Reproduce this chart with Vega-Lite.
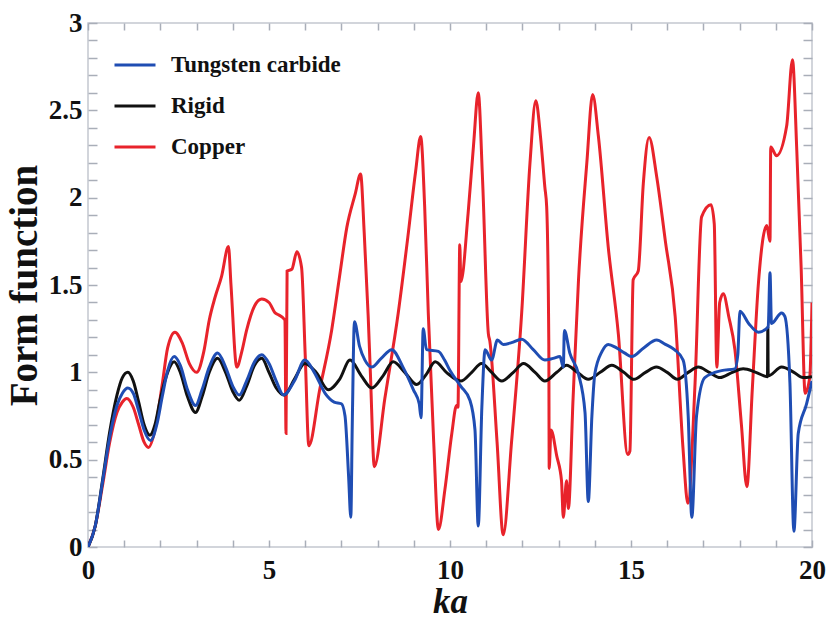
{
"$schema": "https://vega.github.io/schema/vega-lite/v6.json",
"width": 724, "height": 524,
"autosize": {"type": "none"},
"padding": {"left": 88, "top": 23, "right": 17, "bottom": 71},
"background": "white",
"config": {"view": {"stroke": "#c3c7cf", "strokeWidth": 1.5}, "font": "Liberation Serif"},
"datasets": {
"rigid": [
{"m":"Rigid","ka":0,"F":0},{"m":"Rigid","ka":0.2,"F":0.12},{"m":"Rigid","ka":0.4,"F":0.38},{"m":"Rigid","ka":0.6,"F":0.66},{"m":"Rigid","ka":0.8,"F":0.87},{"m":"Rigid","ka":0.95,"F":0.97},{"m":"Rigid","ka":1.1,"F":1.0},{"m":"Rigid","ka":1.25,"F":0.95},{"m":"Rigid","ka":1.4,"F":0.83},{"m":"Rigid","ka":1.55,"F":0.7},{"m":"Rigid","ka":1.71,"F":0.64},{"m":"Rigid","ka":1.85,"F":0.7},{"m":"Rigid","ka":2.0,"F":0.85},{"m":"Rigid","ka":2.2,"F":1.0},{"m":"Rigid","ka":2.38,"F":1.06},{"m":"Rigid","ka":2.55,"F":1.0},{"m":"Rigid","ka":2.75,"F":0.86},{"m":"Rigid","ka":2.97,"F":0.77},{"m":"Rigid","ka":3.15,"F":0.86},{"m":"Rigid","ka":3.35,"F":1.0},{"m":"Rigid","ka":3.58,"F":1.08},{"m":"Rigid","ka":3.8,"F":1.0},{"m":"Rigid","ka":4.0,"F":0.89},{"m":"Rigid","ka":4.18,"F":0.84},{"m":"Rigid","ka":4.38,"F":0.92},{"m":"Rigid","ka":4.6,"F":1.04},{"m":"Rigid","ka":4.8,"F":1.08},{"m":"Rigid","ka":5.0,"F":1.0},{"m":"Rigid","ka":5.2,"F":0.91},{"m":"Rigid","ka":5.42,"F":0.87},{"m":"Rigid","ka":5.7,"F":0.96},{"m":"Rigid","ka":5.99,"F":1.05},{"m":"Rigid","ka":6.3,"F":1.0},{"m":"Rigid","ka":6.64,"F":0.9},{"m":"Rigid","ka":6.95,"F":0.96},{"m":"Rigid","ka":7.24,"F":1.07},{"m":"Rigid","ka":7.55,"F":0.98},{"m":"Rigid","ka":7.84,"F":0.91},{"m":"Rigid","ka":8.15,"F":0.98},{"m":"Rigid","ka":8.43,"F":1.06},{"m":"Rigid","ka":8.75,"F":1.0},{"m":"Rigid","ka":9.08,"F":0.93},{"m":"Rigid","ka":9.35,"F":0.99},{"m":"Rigid","ka":9.59,"F":1.06},{"m":"Rigid","ka":9.9,"F":1.0},{"m":"Rigid","ka":10.3,"F":0.95},{"m":"Rigid","ka":10.6,"F":1.0},{"m":"Rigid","ka":10.87,"F":1.05},{"m":"Rigid","ka":11.15,"F":1.0},{"m":"Rigid","ka":11.43,"F":0.95},{"m":"Rigid","ka":11.75,"F":1.0},{"m":"Rigid","ka":12.03,"F":1.05},{"m":"Rigid","ka":12.35,"F":1.0},{"m":"Rigid","ka":12.62,"F":0.95},{"m":"Rigid","ka":12.95,"F":1.0},{"m":"Rigid","ka":13.22,"F":1.04},{"m":"Rigid","ka":13.52,"F":1.0},{"m":"Rigid","ka":13.82,"F":0.96},{"m":"Rigid","ka":14.15,"F":1.0},{"m":"Rigid","ka":14.47,"F":1.04},{"m":"Rigid","ka":14.8,"F":1.0},{"m":"Rigid","ka":15.08,"F":0.96},{"m":"Rigid","ka":15.4,"F":1.0},{"m":"Rigid","ka":15.7,"F":1.03},{"m":"Rigid","ka":16.0,"F":1.0},{"m":"Rigid","ka":16.28,"F":0.96},{"m":"Rigid","ka":16.58,"F":1.0},{"m":"Rigid","ka":16.86,"F":1.03},{"m":"Rigid","ka":17.16,"F":1.0},{"m":"Rigid","ka":17.46,"F":0.97},{"m":"Rigid","ka":17.8,"F":1.0},{"m":"Rigid","ka":18.1,"F":1.02},{"m":"Rigid","ka":18.45,"F":1.0},{"m":"Rigid","ka":18.77,"F":0.975},{"m":"Rigid","ka":18.78,"F":1.26},{"m":"Rigid","ka":18.79,"F":0.98},{"m":"Rigid","ka":19.16,"F":1.03},{"m":"Rigid","ka":19.5,"F":1.0},{"m":"Rigid","ka":19.75,"F":0.97},{"m":"Rigid","ka":20.0,"F":0.975}
],
"tungsten": [
{"m":"Tungsten carbide","ka":0,"F":0},{"m":"Tungsten carbide","ka":0.2,"F":0.12},{"m":"Tungsten carbide","ka":0.4,"F":0.37},{"m":"Tungsten carbide","ka":0.6,"F":0.63},{"m":"Tungsten carbide","ka":0.8,"F":0.81},{"m":"Tungsten carbide","ka":0.95,"F":0.88},{"m":"Tungsten carbide","ka":1.1,"F":0.91},{"m":"Tungsten carbide","ka":1.25,"F":0.88},{"m":"Tungsten carbide","ka":1.4,"F":0.78},{"m":"Tungsten carbide","ka":1.55,"F":0.67},{"m":"Tungsten carbide","ka":1.73,"F":0.61},{"m":"Tungsten carbide","ka":1.9,"F":0.7},{"m":"Tungsten carbide","ka":2.05,"F":0.86},{"m":"Tungsten carbide","ka":2.2,"F":1.01},{"m":"Tungsten carbide","ka":2.38,"F":1.09},{"m":"Tungsten carbide","ka":2.55,"F":1.04},{"m":"Tungsten carbide","ka":2.75,"F":0.9},{"m":"Tungsten carbide","ka":2.97,"F":0.81},{"m":"Tungsten carbide","ka":3.15,"F":0.9},{"m":"Tungsten carbide","ka":3.35,"F":1.03},{"m":"Tungsten carbide","ka":3.58,"F":1.11},{"m":"Tungsten carbide","ka":3.8,"F":1.03},{"m":"Tungsten carbide","ka":4.0,"F":0.92},{"m":"Tungsten carbide","ka":4.18,"F":0.87},{"m":"Tungsten carbide","ka":4.38,"F":0.95},{"m":"Tungsten carbide","ka":4.6,"F":1.06},{"m":"Tungsten carbide","ka":4.8,"F":1.1},{"m":"Tungsten carbide","ka":5.0,"F":1.05},{"m":"Tungsten carbide","ka":5.2,"F":0.95},{"m":"Tungsten carbide","ka":5.4,"F":0.87},{"m":"Tungsten carbide","ka":5.7,"F":0.95},{"m":"Tungsten carbide","ka":5.99,"F":1.07},{"m":"Tungsten carbide","ka":6.25,"F":1.0},{"m":"Tungsten carbide","ka":6.55,"F":0.88},{"m":"Tungsten carbide","ka":6.8,"F":0.83},{"m":"Tungsten carbide","ka":7.0,"F":0.82},{"m":"Tungsten carbide","ka":7.1,"F":0.75},{"m":"Tungsten carbide","ka":7.2,"F":0.4},{"m":"Tungsten carbide","ka":7.26,"F":0.17},{"m":"Tungsten carbide","ka":7.3,"F":0.7},{"m":"Tungsten carbide","ka":7.36,"F":1.29},{"m":"Tungsten carbide","ka":7.5,"F":1.15},{"m":"Tungsten carbide","ka":7.65,"F":1.07},{"m":"Tungsten carbide","ka":7.84,"F":1.03},{"m":"Tungsten carbide","ka":8.1,"F":1.08},{"m":"Tungsten carbide","ka":8.39,"F":1.13},{"m":"Tungsten carbide","ka":8.7,"F":1.03},{"m":"Tungsten carbide","ka":8.99,"F":0.9},{"m":"Tungsten carbide","ka":9.15,"F":0.82},{"m":"Tungsten carbide","ka":9.2,"F":0.74},{"m":"Tungsten carbide","ka":9.26,"F":1.25},{"m":"Tungsten carbide","ka":9.35,"F":1.13},{"m":"Tungsten carbide","ka":9.68,"F":1.12},{"m":"Tungsten carbide","ka":9.85,"F":1.07},{"m":"Tungsten carbide","ka":10.0,"F":1.01},{"m":"Tungsten carbide","ka":10.3,"F":0.92},{"m":"Tungsten carbide","ka":10.55,"F":0.84},{"m":"Tungsten carbide","ka":10.69,"F":0.67},{"m":"Tungsten carbide","ka":10.78,"F":0.12},{"m":"Tungsten carbide","ka":10.88,"F":0.8},{"m":"Tungsten carbide","ka":10.97,"F":1.13},{"m":"Tungsten carbide","ka":11.15,"F":1.07},{"m":"Tungsten carbide","ka":11.31,"F":1.185},{"m":"Tungsten carbide","ka":11.47,"F":1.16},{"m":"Tungsten carbide","ka":11.7,"F":1.17},{"m":"Tungsten carbide","ka":11.98,"F":1.19},{"m":"Tungsten carbide","ka":12.3,"F":1.13},{"m":"Tungsten carbide","ka":12.62,"F":1.07},{"m":"Tungsten carbide","ka":12.85,"F":1.08},{"m":"Tungsten carbide","ka":13.04,"F":1.09},{"m":"Tungsten carbide","ka":13.13,"F":1.03},{"m":"Tungsten carbide","ka":13.16,"F":1.24},{"m":"Tungsten carbide","ka":13.31,"F":1.11},{"m":"Tungsten carbide","ka":13.55,"F":0.99},{"m":"Tungsten carbide","ka":13.73,"F":0.77},{"m":"Tungsten carbide","ka":13.82,"F":0.26},{"m":"Tungsten carbide","ka":13.92,"F":0.75},{"m":"Tungsten carbide","ka":14.0,"F":0.99},{"m":"Tungsten carbide","ka":14.2,"F":1.12},{"m":"Tungsten carbide","ka":14.37,"F":1.16},{"m":"Tungsten carbide","ka":14.6,"F":1.14},{"m":"Tungsten carbide","ka":14.83,"F":1.11},{"m":"Tungsten carbide","ka":15.02,"F":1.09},{"m":"Tungsten carbide","ka":15.35,"F":1.14},{"m":"Tungsten carbide","ka":15.71,"F":1.185},{"m":"Tungsten carbide","ka":15.95,"F":1.16},{"m":"Tungsten carbide","ka":16.2,"F":1.13},{"m":"Tungsten carbide","ka":16.44,"F":1.07},{"m":"Tungsten carbide","ka":16.58,"F":0.75},{"m":"Tungsten carbide","ka":16.68,"F":0.17},{"m":"Tungsten carbide","ka":16.81,"F":0.75},{"m":"Tungsten carbide","ka":17.04,"F":0.97},{"m":"Tungsten carbide","ka":17.5,"F":1.01},{"m":"Tungsten carbide","ka":17.87,"F":1.02},{"m":"Tungsten carbide","ka":17.95,"F":1.1},{"m":"Tungsten carbide","ka":18.01,"F":1.35},{"m":"Tungsten carbide","ka":18.25,"F":1.28},{"m":"Tungsten carbide","ka":18.52,"F":1.23},{"m":"Tungsten carbide","ka":18.79,"F":1.26},{"m":"Tungsten carbide","ka":18.84,"F":1.57},{"m":"Tungsten carbide","ka":18.88,"F":1.28},{"m":"Tungsten carbide","ka":19.16,"F":1.34},{"m":"Tungsten carbide","ka":19.25,"F":1.32},{"m":"Tungsten carbide","ka":19.39,"F":0.94},{"m":"Tungsten carbide","ka":19.5,"F":0.09},{"m":"Tungsten carbide","ka":19.62,"F":0.65},{"m":"Tungsten carbide","ka":19.85,"F":0.82},{"m":"Tungsten carbide","ka":20.0,"F":0.95}
],
"copper": [
{"m":"Copper","ka":0,"F":0},{"m":"Copper","ka":0.2,"F":0.12},{"m":"Copper","ka":0.4,"F":0.35},{"m":"Copper","ka":0.6,"F":0.6},{"m":"Copper","ka":0.8,"F":0.77},{"m":"Copper","ka":0.95,"F":0.83},{"m":"Copper","ka":1.07,"F":0.85},{"m":"Copper","ka":1.25,"F":0.8},{"m":"Copper","ka":1.4,"F":0.7},{"m":"Copper","ka":1.55,"F":0.6},{"m":"Copper","ka":1.67,"F":0.57},{"m":"Copper","ka":1.85,"F":0.67},{"m":"Copper","ka":2.05,"F":0.93},{"m":"Copper","ka":2.2,"F":1.14},{"m":"Copper","ka":2.4,"F":1.23},{"m":"Copper","ka":2.6,"F":1.17},{"m":"Copper","ka":2.8,"F":1.05},{"m":"Copper","ka":3.0,"F":1.0},{"m":"Copper","ka":3.2,"F":1.12},{"m":"Copper","ka":3.35,"F":1.3},{"m":"Copper","ka":3.51,"F":1.43},{"m":"Copper","ka":3.69,"F":1.55},{"m":"Copper","ka":3.88,"F":1.72},{"m":"Copper","ka":3.95,"F":1.5},{"m":"Copper","ka":4.11,"F":1.03},{"m":"Copper","ka":4.25,"F":1.12},{"m":"Copper","ka":4.38,"F":1.24},{"m":"Copper","ka":4.6,"F":1.38},{"m":"Copper","ka":4.8,"F":1.42},{"m":"Copper","ka":5.0,"F":1.4},{"m":"Copper","ka":5.17,"F":1.34},{"m":"Copper","ka":5.26,"F":1.33},{"m":"Copper","ka":5.44,"F":1.3},{"m":"Copper","ka":5.47,"F":0.65},{"m":"Copper","ka":5.5,"F":1.58},{"m":"Copper","ka":5.63,"F":1.59},{"m":"Copper","ka":5.77,"F":1.69},{"m":"Copper","ka":5.9,"F":1.6},{"m":"Copper","ka":6.0,"F":1.1},{"m":"Copper","ka":6.1,"F":0.58},{"m":"Copper","ka":6.4,"F":0.9},{"m":"Copper","ka":6.73,"F":1.24},{"m":"Copper","ka":6.95,"F":1.55},{"m":"Copper","ka":7.15,"F":1.83},{"m":"Copper","ka":7.38,"F":2.02},{"m":"Copper","ka":7.53,"F":2.135},{"m":"Copper","ka":7.63,"F":1.8},{"m":"Copper","ka":7.74,"F":1.32},{"m":"Copper","ka":7.8,"F":1.0},{"m":"Copper","ka":7.91,"F":0.46},{"m":"Copper","ka":8.2,"F":0.85},{"m":"Copper","ka":8.57,"F":1.34},{"m":"Copper","ka":8.85,"F":1.8},{"m":"Copper","ka":9.05,"F":2.15},{"m":"Copper","ka":9.19,"F":2.35},{"m":"Copper","ka":9.3,"F":1.95},{"m":"Copper","ka":9.4,"F":1.34},{"m":"Copper","ka":9.55,"F":0.6},{"m":"Copper","ka":9.68,"F":0.1},{"m":"Copper","ka":9.86,"F":0.33},{"m":"Copper","ka":10.05,"F":0.65},{"m":"Copper","ka":10.18,"F":0.81},{"m":"Copper","ka":10.22,"F":0.8},{"m":"Copper","ka":10.27,"F":1.73},{"m":"Copper","ka":10.3,"F":1.52},{"m":"Copper","ka":10.5,"F":1.91},{"m":"Copper","ka":10.65,"F":2.3},{"m":"Copper","ka":10.78,"F":2.6},{"m":"Copper","ka":10.9,"F":2.1},{"m":"Copper","ka":11.06,"F":1.22},{"m":"Copper","ka":11.1,"F":1.18},{"m":"Copper","ka":11.3,"F":0.6},{"m":"Copper","ka":11.47,"F":0.07},{"m":"Copper","ka":11.7,"F":0.6},{"m":"Copper","ka":11.98,"F":1.34},{"m":"Copper","ka":12.21,"F":2.2},{"m":"Copper","ka":12.37,"F":2.555},{"m":"Copper","ka":12.5,"F":2.35},{"m":"Copper","ka":12.62,"F":2.06},{"m":"Copper","ka":12.67,"F":1.95},{"m":"Copper","ka":12.73,"F":1.15},{"m":"Copper","ka":12.74,"F":0.45},{"m":"Copper","ka":12.79,"F":0.67},{"m":"Copper","ka":12.95,"F":0.52},{"m":"Copper","ka":13.08,"F":0.38},{"m":"Copper","ka":13.13,"F":0.17},{"m":"Copper","ka":13.22,"F":0.38},{"m":"Copper","ka":13.27,"F":0.22},{"m":"Copper","ka":13.4,"F":0.85},{"m":"Copper","ka":13.55,"F":1.53},{"m":"Copper","ka":13.78,"F":2.2},{"m":"Copper","ka":13.94,"F":2.59},{"m":"Copper","ka":14.1,"F":2.35},{"m":"Copper","ka":14.37,"F":1.72},{"m":"Copper","ka":14.65,"F":1.22},{"m":"Copper","ka":14.91,"F":0.53},{"m":"Copper","ka":14.97,"F":0.55},{"m":"Copper","ka":15.06,"F":1.53},{"m":"Copper","ka":15.2,"F":1.58},{"m":"Copper","ka":15.34,"F":2.08},{"m":"Copper","ka":15.5,"F":2.345},{"m":"Copper","ka":15.71,"F":2.12},{"m":"Copper","ka":15.95,"F":1.75},{"m":"Copper","ka":16.22,"F":1.32},{"m":"Copper","ka":16.44,"F":0.555},{"m":"Copper","ka":16.57,"F":0.25},{"m":"Copper","ka":16.77,"F":0.94},{"m":"Copper","ka":16.95,"F":1.89},{"m":"Copper","ka":17.21,"F":1.96},{"m":"Copper","ka":17.3,"F":1.85},{"m":"Copper","ka":17.37,"F":1.03},{"m":"Copper","ka":17.45,"F":1.4},{"m":"Copper","ka":17.55,"F":1.45},{"m":"Copper","ka":17.7,"F":1.32},{"m":"Copper","ka":17.87,"F":1.13},{"m":"Copper","ka":18.05,"F":0.7},{"m":"Copper","ka":18.2,"F":0.345},{"m":"Copper","ka":18.35,"F":0.9},{"m":"Copper","ka":18.52,"F":1.51},{"m":"Copper","ka":18.75,"F":1.84},{"m":"Copper","ka":18.84,"F":1.75},{"m":"Copper","ka":18.86,"F":2.29},{"m":"Copper","ka":19.02,"F":2.24},{"m":"Copper","ka":19.3,"F":2.41},{"m":"Copper","ka":19.46,"F":2.79},{"m":"Copper","ka":19.58,"F":2.27},{"m":"Copper","ka":19.7,"F":1.6},{"m":"Copper","ka":19.81,"F":0.88},{"m":"Copper","ka":19.94,"F":0.975},{"m":"Copper","ka":20.0,"F":1.4}
]
},
"layer": [
{
"data": {"name": "copper"},
"mark": {"type": "line", "strokeWidth": 3, "clip": true, "interpolate": "monotone"},
"encoding": {
"x": {"field": "ka", "type": "quantitative", "scale": {"domain": [0, 20], "nice": false, "zero": false},
"axis": {"values": [0,1,2,3,4,5,6,7,8,9,10,11,12,13,14,15,16,17,18,19,20], "format": "d", "labelExpr": "datum.value % 5 == 0 ? datum.label : ''", "tickSize": -7, "tickColor": "#a9aeb8", "tickWidth": 1.5, "domain": false, "grid": false, "labelFont": "Liberation Serif", "labelFontWeight": "bold", "labelFontSize": 27, "labelColor": "#111111", "labelPadding": 17, "labelFlush": false, "title": "ka", "titleFont": "Liberation Serif", "titleFontStyle": "italic", "titleFontWeight": "bold", "titleFontSize": 35, "titleColor": "#111111", "titlePadding": 1}},
"y": {"field": "F", "type": "quantitative", "scale": {"domain": [0, 3], "nice": false},
"axis": {"values": [0,0.1,0.2,0.3,0.4,0.5,0.6,0.7,0.8,0.9,1,1.1,1.2,1.3,1.4,1.5,1.6,1.7,1.8,1.9,2,2.1,2.2,2.3,2.4,2.5,2.6,2.7,2.8,2.9,3], "labelExpr": "round(datum.value*10) % 5 == 0 ? format(datum.value, '~g') : ''", "tickSize": -9, "tickColor": "#a9aeb8", "tickWidth": 1.5, "domain": false, "grid": false, "labelFont": "Liberation Serif", "labelFontWeight": "bold", "labelFontSize": 27, "labelColor": "#111111", "labelPadding": 15, "labelFlush": false, "title": "Form function", "titleFont": "Liberation Serif", "titleFontWeight": "bold", "titleFontSize": 39, "titleColor": "#111111", "titlePadding": 4}},
"color": {"field": "m", "type": "nominal", "scale": {"domain": ["Tungsten carbide", "Rigid", "Copper"], "range": ["#1f4db3", "#111111", "#e8232b"]},
"legend": {"orient": "none", "legendX": 25, "legendY": 20, "title": null, "symbolType": "stroke", "symbolStrokeWidth": 3, "symbolSize": 1681, "labelFont": "Liberation Serif", "labelFontWeight": "bold", "labelFontSize": 23, "labelColor": "#111111", "labelOffset": 14, "rowPadding": 7, "padding": 0, "labelLimit": 400}}
}
},
{
"data": {"name": "rigid"},
"mark": {"type": "line", "strokeWidth": 3, "clip": true, "interpolate": "monotone"},
"encoding": {
"x": {"field": "ka", "type": "quantitative", "axis": null},
"y": {"field": "F", "type": "quantitative", "axis": null},
"color": {"field": "m", "type": "nominal"}
}
},
{
"data": {"name": "tungsten"},
"mark": {"type": "line", "strokeWidth": 3, "clip": true, "interpolate": "monotone"},
"encoding": {
"x": {"field": "ka", "type": "quantitative", "axis": null},
"y": {"field": "F", "type": "quantitative", "axis": null},
"color": {"field": "m", "type": "nominal"}
}
},
{
"data": {"name": "rigid"},
"mark": {"type": "point", "opacity": 0},
"encoding": {
"x": {"field": "ka", "type": "quantitative", "axis": {"orient": "top", "values": [0,1,2,3,4,5,6,7,8,9,10,11,12,13,14,15,16,17,18,19,20], "labels": false, "tickSize": -7, "tickColor": "#a9aeb8", "tickWidth": 1.5, "domain": false, "grid": false, "title": null}},
"y": {"field": "F", "type": "quantitative", "axis": {"orient": "right", "values": [0,0.1,0.2,0.3,0.4,0.5,0.6,0.7,0.8,0.9,1,1.1,1.2,1.3,1.4,1.5,1.6,1.7,1.8,1.9,2,2.1,2.2,2.3,2.4,2.5,2.6,2.7,2.8,2.9,3], "labels": false, "tickSize": -9, "tickColor": "#a9aeb8", "tickWidth": 1.5, "domain": false, "grid": false, "title": null}}
}
}
],
"resolve": {"axis": {"x": "independent", "y": "independent"}}
}
